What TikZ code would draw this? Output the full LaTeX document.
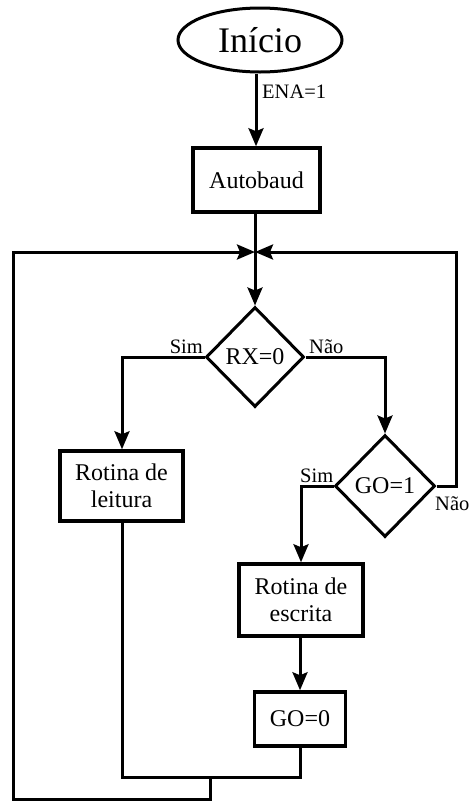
\documentclass[tikz,border=0pt]{standalone}
\usepackage{fontspec}
\setmainfont{Liberation Serif}
\usetikzlibrary{shapes.geometric,arrows.meta}

\tikzset{
  flow/.style={line width=3pt, line join=miter},
  arr/.style={flow, -{Stealth[length=18pt,width=15pt,inset=3pt]}},
  procbox/.style={draw, line width=3.5pt, rectangle, inner sep=0pt, align=center,
    font=\fontsize{24}{27}\selectfont},
  decision/.style={draw, line width=3pt, diamond, inner sep=0pt,
    minimum width=98pt, minimum height=100pt, font=\fontsize{24}{27}\selectfont},
  terminal/.style={draw, line width=3pt, ellipse, inner sep=0pt,
    minimum width=164pt, minimum height=64pt, font=\fontsize{36}{40}\selectfont},
  lbl/.style={inner sep=0pt, font=\fontsize{20.5}{23}\selectfont}
}

\begin{document}
\begin{tikzpicture}[x=1pt,y=-1pt]
  \useasboundingbox (0,0) rectangle (469,801);

  % nodes
  \node[terminal] (start) at (260,40) {Início};
  \node[procbox, minimum width=127pt, minimum height=64pt] (auto) at (256.5,180) {Autobaud};
  \coordinate (join) at (255,252);
  \node[decision] (rx) at (255,357) {RX=0};
  \node[decision, minimum width=100pt, minimum height=102pt] (go1) at (385,486) {GO=1};
  \node[procbox, minimum width=123pt, minimum height=70pt] (read) at (121.5,486) {Rotina de\\leitura};
  \node[procbox, minimum width=124pt, minimum height=72pt] (write) at (301,600) {Rotina de\\escrita};
  \node[procbox, minimum width=91pt, minimum height=54pt] (go0) at (300,719) {GO=0};

  % helper points of the loops
  \coordinate (rxL) at (122,357);
  \coordinate (rxR) at (385,357);
  \coordinate (goL) at (301,486);
  \coordinate (goR) at (456,486);
  \coordinate (topR) at (456,252);
  \coordinate (topL) at (13,252);
  \coordinate (botL) at (13,799);
  \coordinate (botM) at (210,799);
  \coordinate (merge) at (210,777);
  \coordinate (mergeL) at (122,777);
  \coordinate (mergeR) at (300,777);

  % main path
  \draw[arr] (start.south -| 256,0) -- (auto.north -| 256,0);
  \node[lbl, anchor=west] (ena) at (262,92) {ENA=1};
  \draw[flow] (auto.south -| join) -- (join);
  \draw[arr] (join) -- (rx.north);

  % RX=0 branches
  \draw[arr] (rx.west) -- (rxL) -- (read.north -| rxL);
  \draw[arr] (rx.east) -- (rxR) -- (go1.north);
  \node[lbl, anchor=south east] (rxsim) at (203,354) {Sim};
  \node[lbl, anchor=south west] (rxnao) at (309,354) {Não};

  % GO=1 branches
  \draw[arr] (go1.west) -- (goL) -- (write.north -| goL);
  \draw[arr] (go1.east) -- (goR) -- (topR) -- (join);
  \node[lbl, anchor=south west] (gosim) at (300,483) {Sim};
  \node[lbl, anchor=north west] (gonao) at (435,496) {Não};

  % write routine and reset of GO
  \draw[arr] (write.south -| mergeR) -- (go0.north -| mergeR);

  % return to the top
  \draw[flow] (go0.south -| mergeR) -- (mergeR) -- (mergeL) -- (read.south -| mergeL);
  \draw[arr] (merge) -- (botM) -- (botL) -- (topL) -- (join);
\end{tikzpicture}
\end{document}
